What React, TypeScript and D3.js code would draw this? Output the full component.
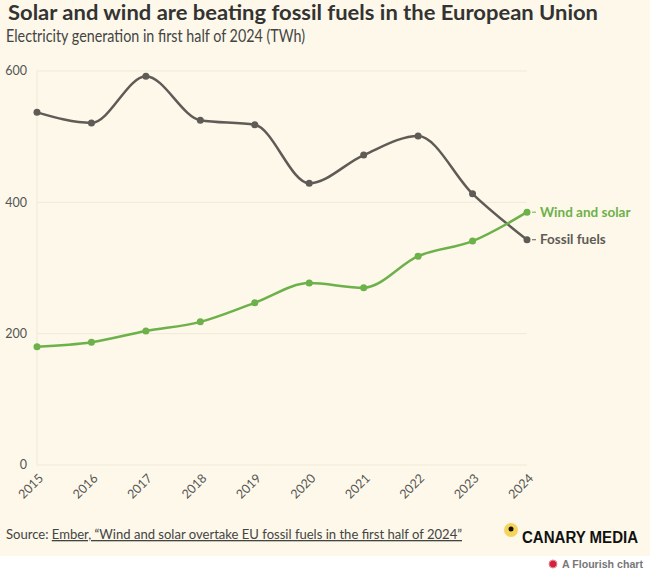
import React from "react";
import * as d3 from "d3";

const years = [2015, 2016, 2017, 2018, 2019, 2020, 2021, 2022, 2023, 2024];
const fossilFuels = [537, 521, 592, 525, 518, 429, 472, 501, 413, 343];
const windSolar = [180, 187, 204, 218, 247, 277, 270, 318, 341, 385];
const yTicks = [0, 200, 400, 600];

const BG = "#fdf8e9";
const FOSSIL = "#5f5b56";
const GREEN = "#6cb14a";
const FONT = "'Source Sans Pro', Lato, 'Open Sans', sans-serif";

export default function App() {
  const width = 650;
  const height = 575;
  const margin = { top: 71, right: 123, bottom: 110, left: 37 };

  const x = d3
    .scalePoint<number>()
    .domain(years)
    .range([margin.left, width - margin.right]);
  const y = d3
    .scaleLinear()
    .domain([0, 600])
    .range([height - margin.bottom, margin.top]);

  const line = d3
    .line<number>()
    .x((_, i) => x(years[i]) as number)
    .y((d) => y(d))
    .curve(d3.curveMonotoneX);

  const series = [
    { name: "Fossil fuels", values: fossilFuels, color: FOSSIL },
    { name: "Wind and solar", values: windSolar, color: GREEN },
  ];

  const lastX = x(years[years.length - 1]) as number;

  // little spiky "star" for the Flourish credit
  const star = d3.range(24).map((i) => {
    const r = i % 2 === 0 ? 5 : 3.2;
    const a = (i / 24) * Math.PI * 2;
    return [Math.cos(a) * r, Math.sin(a) * r] as [number, number];
  });

  return (
    <svg
      width={width}
      height={height}
      style={{ position: "absolute", left: 0, top: 0, display: "block" }}
      fontFamily={FONT}
    >
      <rect x={0} y={0} width={width} height={556} fill={BG} />
      <rect x={0} y={556} width={width} height={height - 556} fill="#ffffff" />

      {/* Title */}
      <text x={8} y={20} fontSize={20} fontWeight={700} fill="#333" textLength={590} lengthAdjust="spacingAndGlyphs">
        Solar and wind are beating fossil fuels in the European Union
      </text>
      <text x={6} y={42} fontSize={18} fill="#444" textLength={299} lengthAdjust="spacingAndGlyphs">
        Electricity generation in first half of 2024 (TWh)
      </text>

      {/* Grid */}
      {yTicks.map((t) => (
        <g key={t}>
          <line x1={margin.left} x2={lastX} y1={y(t)} y2={y(t)} stroke="#efe9d8" strokeWidth={1} />
          <text x={27} y={y(t)} dy="0.35em" textAnchor="end" fontSize={12.5} fill="#555">
            {t}
          </text>
        </g>
      ))}
      <line x1={margin.left} x2={margin.left} y1={margin.top} y2={y(0)} stroke="#efe9d8" />

      {/* X ticks */}
      {years.map((yr) => {
        const px = x(yr) as number;
        return (
          <text
            key={yr}
            transform={`translate(${px + 4},${y(0) + 11}) rotate(-45)`}
            textAnchor="end"
            dy="0.35em"
            fontSize={12.5}
            fill="#555"
          >
            {yr}
          </text>
        );
      })}

      {/* Lines */}
      {series.map((s) => (
        <g key={s.name}>
          <path d={line(s.values) || ""} fill="none" stroke={s.color} strokeWidth={2.5} />
          {s.values.map((v, i) => (
            <circle key={i} cx={x(years[i]) as number} cy={y(v)} r={3.5} fill={s.color} />
          ))}
          <line
            x1={lastX + 5}
            x2={lastX + 9}
            y1={y(s.values[s.values.length - 1])}
            y2={y(s.values[s.values.length - 1])}
            stroke={s.color}
            strokeWidth={1}
          />
          <text
            x={lastX + 13}
            y={y(s.values[s.values.length - 1])}
            dy="0.35em"
            fontSize={13.5}
            fontWeight={700}
            fill={s.color}
          >
            {s.name}
          </text>
        </g>
      ))}

      {/* Source */}
      <text x={6} y={539} fontSize={13} fill="#444" textLength={456} lengthAdjust="spacingAndGlyphs">
        Source:{" "}
        <tspan textDecoration="underline">
          Ember, “Wind and solar overtake EU fossil fuels in the first half of 2024”
        </tspan>
      </text>

      {/* Canary Media logo */}
      <circle cx={511} cy={530} r={7} fill="#f6d35b" />
      <circle cx={511} cy={529} r={2.5} fill="#111" />
      <text x={522} y={543} fontSize={16} fontWeight={700} fill="#111" fontFamily="'Liberation Sans', Arial, sans-serif" textLength={116} lengthAdjust="spacingAndGlyphs">
        CANARY MEDIA
      </text>

      {/* Flourish footer */}
      <path
        transform="translate(553,564)"
        d={(d3.line()(star) || "") + "Z"}
        fill="#d2223c"
      />
      <text x={562} y={568} fontSize={11} fontWeight={700} fill="#777" fontFamily="'Liberation Sans', Arial, sans-serif" textLength={81} lengthAdjust="spacingAndGlyphs">
        A Flourish chart
      </text>
    </svg>
  );
}
